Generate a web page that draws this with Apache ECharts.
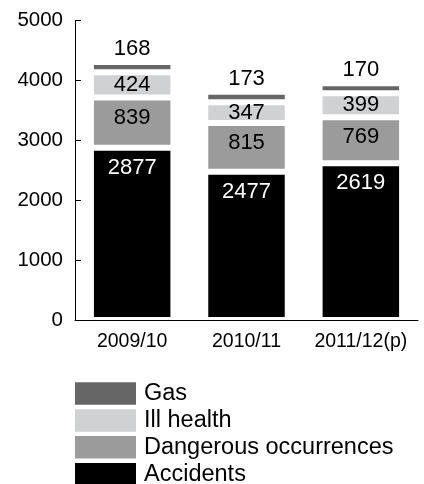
<!DOCTYPE html>
<html>
<head>
<meta charset="utf-8">
<script src="https://cdn.jsdelivr.net/npm/echarts@6/dist/echarts.min.js"></script>
<style>
    html, body { margin: 0; padding: 0; background: #fff; }
    #chart { width: 424px; height: 484px; }
</style>
</head>
<body>
<div id="chart"></div>
<script>
const years = ['2009/10', '2010/11', '2011/12(p)'];
const accidents = [2877, 2477, 2619];
const dangerous = [839, 815, 769];
const illHealth = [424, 347, 399];
const gas = [168, 173, 170];
const yTicks = { min: 0, max: 5000, interval: 1000 };

const font = "'Liberation Sans', Arial, Helvetica, sans-serif";
const colors = ['#000000', '#9b9b9b', '#d0d1d3', '#666666'];

// white border gives the gaps between stacked segments
function seg(name, data, color, label) {
    return {
        name: name,
        type: 'bar',
        stack: 'total',
        barWidth: 82.5,
        data: data,
        itemStyle: { color: color, borderColor: '#fff', borderWidth: 3 },
        label: Object.assign({
            show: true,
            fontFamily: font,
            fontSize: 22,
            lineHeight: 22
        }, label)
    };
}

const chart = echarts.init(document.getElementById('chart'));
chart.setOption({
    animation: false,
    textStyle: { fontFamily: font },
    grid: { left: 75, right: 6, top: 20.7, bottom: 164 },
    legend: {
        orient: 'vertical',
        left: 75,
        top: 381.5,
        height: 110,
        padding: 0,
        itemWidth: 61,
        itemHeight: 22.5,
        itemGap: 2.9,
        icon: 'rect',
        selectedMode: false,
        itemStyle: { borderWidth: 0 },
        textStyle: { fontFamily: font, fontSize: 23.5, lineHeight: 22, color: '#000', padding: [0, 0, 0, 3] },
        data: ['Gas', 'Ill health', 'Dangerous occurrences', 'Accidents']
    },
    xAxis: {
        type: 'category',
        data: years,
        axisLine: { lineStyle: { color: '#000', width: 1 } },
        axisTick: { inside: true, length: 6, lineStyle: { color: '#000' } },
        axisLabel: { color: '#000', fontSize: 19.5, margin: 12, interval: 0, fontFamily: font }
    },
    yAxis: {
        type: 'value',
        min: yTicks.min,
        max: yTicks.max,
        interval: yTicks.interval,
        splitLine: { show: false },
        axisLine: { show: true, lineStyle: { color: '#000', width: 1 } },
        axisTick: { show: true, inside: true, length: 6, lineStyle: { color: '#000' } },
        axisLabel: {
            color: '#000', fontSize: 20.5, margin: 12, fontFamily: font,
            formatter: function (v) { return String(v); }
        }
    },
    series: [
        seg('Accidents', accidents, colors[0], { position: 'insideTop', distance: 9, color: '#fff' }),
        seg('Dangerous occurrences', dangerous, colors[1], { position: 'insideTop', distance: 9, color: '#000' }),
        seg('Ill health', illHealth, colors[2], { position: 'inside', color: '#000' }),
        seg('Gas', gas, colors[3], { position: 'top', distance: 2, color: '#000' })
    ]
});
</script>
</body>
</html>
